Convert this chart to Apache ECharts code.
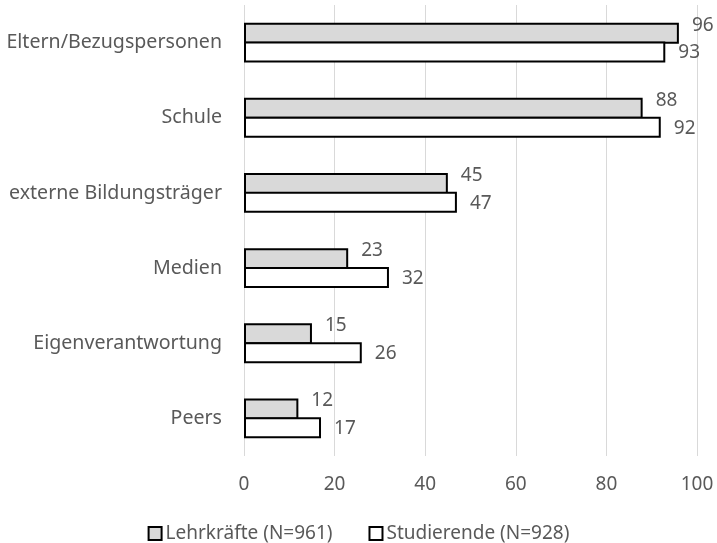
<!DOCTYPE html>
<html>
<head>
<meta charset="utf-8">
<script src="https://cdn.jsdelivr.net/npm/echarts@6/dist/echarts.min.js"></script>
<style>
  html, body { margin: 0; padding: 0; background: #fff; }
  #chart { width: 717px; height: 543px; }
</style>
</head>
<body>
<div id="chart"></div>
<script>
// Kategorien von oben nach unten
const categories = ['Eltern/Bezugspersonen', 'Schule', 'externe Bildungsträger', 'Medien', 'Eigenverantwortung', 'Peers']
const lehrkraefte = [96, 88, 45, 23, 15, 12]
const studierende = [93, 92, 47, 32, 26, 17]
const seriesNames = ['Lehrkräfte (N=961)', 'Studierende (N=928)']

const textColor = '#595959'
const fontFamily = '"Noto Sans", sans-serif'

const chart = echarts.init(document.getElementById('chart'))

const option = {
    animation: false,
    textStyle: { fontFamily: fontFamily },
    grid: { left: 244, right: 20, top: 5, bottom: 87 },
    legend: {
        top: 519,
        left: 'center',
        icon: 'rect',
        itemWidth: 13,
        itemHeight: 13,
        itemGap: 36,
        textStyle: { color: textColor, fontSize: 19, fontFamily: fontFamily, padding: [0, 0, 0, -1] },
        data: seriesNames
    },
    xAxis: {
        type: 'value',
        min: 0,
        max: 100,
        interval: 20,
        axisLine: { show: false },
        axisTick: { show: false },
        axisLabel: { color: textColor, fontSize: 19, margin: 19 },
        splitLine: { lineStyle: { color: '#d9d9d9', width: 1 } }
    },
    yAxis: {
        type: 'category',
        inverse: true,
        data: categories,
        axisLine: { show: false },
        axisTick: { show: false },
        axisLabel: { color: textColor, fontSize: 19.6, margin: 22 }
    },
    series: [
        {
            name: seriesNames[0],
            type: 'bar',
            data: lehrkraefte,
            barWidth: 21,
            barGap: '-10%',
            itemStyle: { color: '#d9d9d9', borderColor: '#000', borderWidth: 2 },
            label: {
                show: true,
                position: 'right',
                distance: 13,
                offset: [0, -8],
                color: textColor,
                fontSize: 19
            }
        },
        {
            name: seriesNames[1],
            type: 'bar',
            data: studierende,
            barWidth: 21,
            barGap: '-10%',
            itemStyle: { color: '#ffffff', borderColor: '#000', borderWidth: 2 },
            label: {
                show: true,
                position: 'right',
                distance: 13,
                offset: [0, 1],
                color: textColor,
                fontSize: 19
            }
        }
    ]
}
chart.setOption(option)
</script>
</body>
</html>
